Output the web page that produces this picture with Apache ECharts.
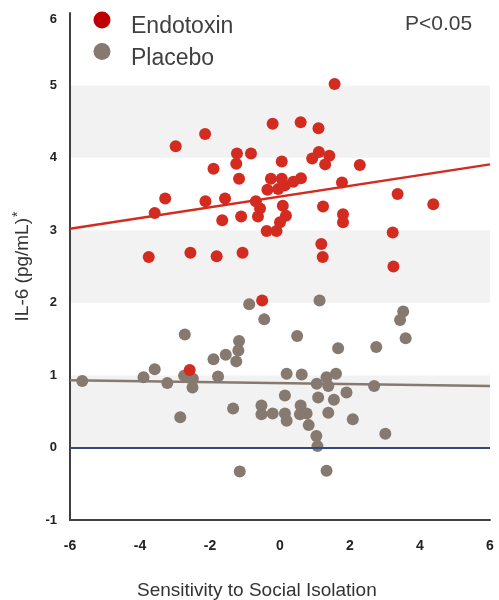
<!DOCTYPE html>
<html>
<head>
<meta charset="utf-8">
<script src="https://cdn.jsdelivr.net/npm/echarts@6/dist/echarts.min.js"></script>
<style>
  html, body { margin: 0; padding: 0; background: #fff; }
  #chart { width: 499px; height: 600px; }
</style>
</head>
<body>
<div id="chart"></div>
<script>
// IL-6 response vs. sensitivity to social isolation, [sensitivity, IL-6 pg/mL]
const endotoxinPoints = [
  [1.56, 5.02], [-0.21, 4.47], [0.59, 4.49], [1.10, 4.41], [-2.14, 4.33],
  [-2.98, 4.16], [-1.23, 4.06], [-0.83, 4.06], [1.11, 4.08], [-1.25, 3.92],
  [0.05, 3.95], [1.41, 4.03], [0.92, 3.99], [1.29, 3.91], [2.28, 3.90],
  [-1.90, 3.85], [-1.17, 3.71], [-0.26, 3.71], [0.05, 3.71], [-0.36, 3.56],
  [-0.05, 3.57], [0.14, 3.62], [0.38, 3.67], [0.60, 3.72], [1.77, 3.66],
  [3.36, 3.50], [4.38, 3.36], [-3.28, 3.44], [-3.58, 3.24], [-2.13, 3.40],
  [-1.57, 3.44], [-0.69, 3.40], [-0.57, 3.30], [-0.63, 3.19], [-1.65, 3.14],
  [-1.11, 3.19], [0.08, 3.34], [0.17, 3.20], [0.00, 3.11], [1.23, 3.33],
  [1.80, 3.22], [1.80, 3.11], [-0.38, 2.99], [-0.10, 2.99], [3.22, 2.97],
  [1.18, 2.81], [1.22, 2.63], [3.24, 2.50], [-3.75, 2.63], [-2.56, 2.69],
  [-1.81, 2.64], [-1.07, 2.69], [-0.51, 2.03], [-2.58, 1.07]
];
const placeboPoints = [
  [-0.88, 1.98], [-0.45, 1.77], [-2.72, 1.56], [-1.17, 1.47], [-1.19, 1.34],
  [-1.25, 1.19], [-1.55, 1.28], [-1.90, 1.22], [-3.58, 1.08], [-3.90, 0.97],
  [-5.65, 0.92], [-3.22, 0.89], [-2.74, 0.99], [-2.49, 0.95], [-2.50, 0.83],
  [-1.77, 0.98], [-2.85, 0.42], [-1.34, 0.54], [-0.53, 0.58], [-0.53, 0.46],
  [-0.21, 0.47], [-1.15, -0.33], [1.13, 2.03], [3.52, 1.88], [3.43, 1.76],
  [3.59, 1.51], [0.49, 1.54], [1.66, 1.37], [2.75, 1.39], [0.19, 1.02],
  [0.62, 1.01], [1.33, 0.97], [1.60, 1.02], [1.05, 0.88], [1.38, 0.85],
  [2.69, 0.85], [0.14, 0.72], [1.09, 0.69], [1.54, 0.66], [1.90, 0.76],
  [0.14, 0.47], [0.19, 0.37], [0.59, 0.58], [0.57, 0.46], [0.76, 0.47],
  [1.38, 0.48], [2.08, 0.39], [0.82, 0.31], [1.04, 0.16], [1.07, 0.02],
  [3.01, 0.19], [1.33, -0.32]
];
// Regression lines (endpoints at the x-axis limits)
const endotoxinFit = [[-6, 3.02], [6, 3.91]];
const placeboFit = [[-6, 0.93], [6, 0.85]];

const xTicks = { min: -6, max: 6, interval: 2 };
const yTicks = { min: -1, max: 6, interval: 1 };

const RED = '#d42b20';
const RED_KEY = '#c00000';
const GRAY = '#857970';
const FONT = '"Liberation Sans", Arial, sans-serif';

// Legend key: coloured dot + label
function keyEntry(y, color, label) {
  return [
    { type: 'circle', shape: { cx: 102, cy: y, r: 8.5 }, style: { fill: color }, z: 10 },
    { type: 'text', x: 131, y: y + 7, style: { text: label, fontSize: 23, fill: '#404040', fontFamily: FONT, textVerticalAlign: 'middle' }, z: 10 }
  ];
}

const chart = echarts.init(document.getElementById('chart'), null, { renderer: 'canvas' });
chart.setOption({
  animation: false,
  backgroundColor: '#fff',
  textStyle: { fontFamily: FONT },
  grid: { left: 70, right: 9, top: 13, bottom: 80 },
  xAxis: {
    type: 'value',
    min: xTicks.min, max: xTicks.max, interval: xTicks.interval,
    axisLine: { onZero: false, lineStyle: { color: '#404040', width: 2 } },
    axisTick: { show: false },
    splitLine: { show: false },
    axisLabel: { fontSize: 14, fontWeight: 'bold', color: '#222', margin: 19, fontFamily: FONT }
  },
  yAxis: {
    type: 'value',
    min: yTicks.min, max: yTicks.max, interval: yTicks.interval,
    name: '{a|IL-6 (pg/mL)}{s|*}',
    nameLocation: 'middle',
    nameGap: 35,
    nameTextStyle: {
      fontSize: 19, color: '#333', fontFamily: FONT,
      rich: {
        a: { fontSize: 19, color: '#333', fontFamily: FONT },
        s: { fontSize: 14, color: '#333', fontFamily: FONT, padding: [0, 0, 10, 1] }
      }
    },
    axisLine: { show: true, onZero: false, lineStyle: { color: '#404040', width: 2 } },
    axisTick: { show: false },
    splitLine: { show: false },
    splitArea: { show: true, areaStyle: { color: ['#ffffff', '#f2f2f2'] } },
    axisLabel: {
      fontSize: 13, fontWeight: 'bold', color: '#222', margin: 13, fontFamily: FONT,
      // top label sits a little below the axis end
      formatter: v => (v === yTicks.max ? '{top|' + v + '}' : String(v)),
      rich: { top: { fontSize: 13, fontWeight: 'bold', color: '#222', fontFamily: FONT, padding: [12, 0, 0, 0] } }
    }
  },
  graphic: [
    ...keyEntry(20, RED_KEY, 'Endotoxin'),
    ...keyEntry(51.5, GRAY, 'Placebo'),
    {
      type: 'text', x: 405, y: 24, z: 10,
      style: { text: 'P<0.05', fontSize: 21, fill: '#404040', fontFamily: FONT, textVerticalAlign: 'middle' }
    },
    {
      type: 'text', x: 137, y: 591, z: 10,
      style: { text: 'Sensitivity to Social Isolation', fontSize: 19, fill: '#333', fontFamily: FONT, textVerticalAlign: 'middle' }
    }
  ],
  series: [
    {
      name: 'Placebo fit', type: 'line', data: placeboFit, symbol: 'none', z: 2,
      lineStyle: { color: GRAY, width: 2.5 }, silent: true,
      markLine: {
        silent: true, symbol: 'none', label: { show: false },
        lineStyle: { color: '#2f4a7a', width: 2, type: 'solid' },
        data: [{ yAxis: 0 }]
      }
    },
    {
      name: 'Endotoxin fit', type: 'line', data: endotoxinFit, symbol: 'none', z: 2,
      lineStyle: { color: RED, width: 2.5 }, silent: true
    },
    {
      name: 'Placebo', type: 'scatter', data: placeboPoints, symbolSize: 12, z: 3,
      itemStyle: { color: GRAY, opacity: 1 }
    },
    {
      name: 'Endotoxin', type: 'scatter', data: endotoxinPoints, symbolSize: 12, z: 4,
      itemStyle: { color: RED, opacity: 1 }
    }
  ]
});
</script>
</body>
</html>
